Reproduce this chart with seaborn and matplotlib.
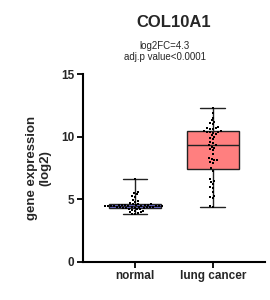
import matplotlib
matplotlib.use("Agg")
import matplotlib.pyplot as plt
import seaborn as sns
import pandas as pd

categories = ["normal", "lung cancer"]
normal_vals = [3.79, 3.85, 3.9, 3.95, 4.0, 4.05, 4.1, 4.15, 4.2, 4.22, 4.25, 4.28,
               4.3, 4.32, 4.34, 4.35, 4.36, 4.38, 4.4, 4.4, 4.41, 4.42, 4.43, 4.44, 4.45,
               4.45, 4.46, 4.47, 4.48, 4.5, 4.5, 4.52, 4.53, 4.55, 4.56, 4.57, 4.58, 4.6,
               4.62, 4.65, 4.7, 4.8, 4.9, 4.95, 5.2, 5.3, 5.4, 5.5, 5.6, 6.61]
cancer_vals = [4.37, 4.45, 5.1, 5.2, 5.3, 5.6, 5.9, 6.0, 6.2, 6.4, 6.5, 6.6, 7.3,
               7.5, 7.9, 8.0, 8.1, 8.1, 8.2, 8.3, 8.6, 8.9, 9.0, 9.1, 9.2, 9.3,
               9.35, 9.5, 9.6, 9.8, 9.9, 10.0, 10.1, 10.2, 10.3, 10.35, 10.38, 10.4, 10.42,
               10.45, 10.6, 10.6, 10.7, 10.7, 10.8, 11.0, 11.1, 11.2, 11.3, 11.5, 11.9, 12.3]
box_colors = ["#7f7fff", "#ff7f7f"]
title = "COL10A1"
subtitle = "log2FC=4.3\nadj.p value<0.0001"
y_ticks = [0, 5, 10, 15]

df = pd.DataFrame({
    "group": [categories[0]] * len(normal_vals) + [categories[1]] * len(cancer_vals),
    "value": normal_vals + cancer_vals,
})

sns.set_theme(style="ticks")
plt.rcParams["font.family"] = ["Liberation Sans", "DejaVu Sans"]

fig = plt.figure(figsize=(2.7, 3.0), dpi=100)
ax = fig.add_axes([0.307, 0.127, 0.674, 0.626])

sns.boxplot(data=df, x="group", y="value", order=categories, hue="group",
            palette=box_colors, legend=False, width=0.67, whis=(0, 100),
            linewidth=1.0, linecolor="#222222", fliersize=0, ax=ax,
            showcaps=True, capwidths=0.32, saturation=1)
sns.swarmplot(data=df, x="group", y="value", order=categories, color="black",
              marker="s", size=2.1, ax=ax)

ax.set_xlim(-0.67, 1.67)
ax.set_ylim(0, 15)
ax.set_yticks(y_ticks)
ax.set_xlabel("")
ax.set_ylabel("gene expression\n(log2)", fontsize=9.5, fontweight="bold", labelpad=7)
for lab in ax.get_xticklabels() + ax.get_yticklabels():
    lab.set_fontweight("bold")
    lab.set_fontsize(8.5)
ax.tick_params(axis="both", direction="out", length=4, width=1.3, color="black", pad=2)
sns.despine(ax=ax)
for s in ["left", "bottom"]:
    ax.spines[s].set_linewidth(1.5)
    ax.spines[s].set_color("black")

fig.text(0.645, 0.925, title, ha="center", va="center", fontsize=12, fontweight="bold")
fig.text(0.61, 0.828, subtitle, ha="center", va="center", fontsize=7, linespacing=1.15)

fig.savefig("out.png", dpi=100)
